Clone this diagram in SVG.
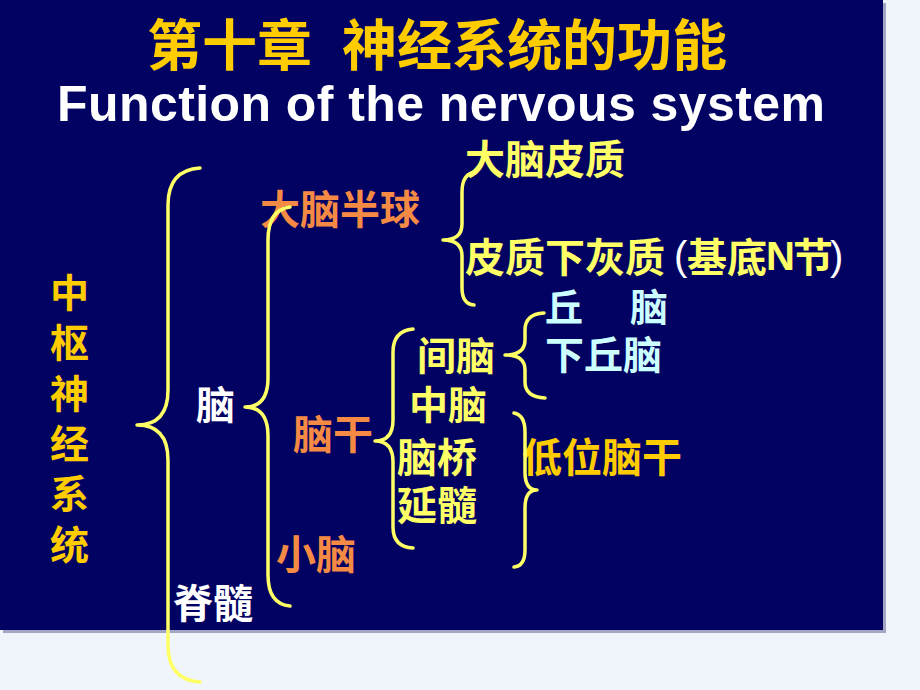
<svg xmlns="http://www.w3.org/2000/svg" width="920" height="690" viewBox="0 0 920 690">
<style>
.cjk{font-family:"Noto Sans CJK SC","Noto Sans CJK TC",sans-serif;font-weight:bold;}
.lat{font-family:"Liberation Sans",Arial,sans-serif;font-weight:bold;}
.paren{font-family:"Liberation Sans",Arial,sans-serif;font-weight:normal;fill:#ffffff;}
.gold{fill:#ffcc00;}
.yel{fill:#ffff66;}
.org{fill:#f58a45;}
.cyan{fill:#ccffff;}
.wht{fill:#ffffff;}
.brace{fill:none;stroke:#ffff66;stroke-width:3.5;stroke-linecap:round;stroke-linejoin:round;}
</style>
<rect x="0" y="0" width="920" height="690" fill="#eff5fa"/>
<rect x="3" y="3" width="883" height="630" fill="#a4a4c4"/>
<rect x="0" y="0" width="883" height="630" fill="#020262"/>

<g id="title">
<text class="cjk gold" x="147" y="65" font-size="55">第十章</text>
<text class="cjk gold" x="342" y="65" font-size="55">神经系统的功能</text>
</g>
<g id="subtitle">
<text class="lat wht" x="57" y="121" font-size="50" textLength="768" lengthAdjust="spacing">Function of the nervous system</text>
</g>

<g id="cns">
<text class="cjk gold" font-size="39" x="50" y="307">中</text>
<text class="cjk gold" font-size="39" x="50" y="357">枢</text>
<text class="cjk gold" font-size="39" x="50" y="408">神</text>
<text class="cjk gold" font-size="39" x="50" y="458">经</text>
<text class="cjk gold" font-size="39" x="50" y="508">系</text>
<text class="cjk gold" font-size="39" x="50" y="559">统</text>
</g>

<g id="brain"><text class="cjk wht" font-size="39" x="196" y="419">脑</text></g>
<g id="spinal"><text class="cjk wht" font-size="40" x="173" y="618">脊髓</text></g>

<g id="cerebrum"><text class="cjk org" font-size="40" x="260" y="224">大脑半球</text></g>
<g id="brainstem"><text class="cjk org" font-size="40" x="293" y="449">脑干</text></g>
<g id="cerebellum"><text class="cjk org" font-size="40" x="276" y="569">小脑</text></g>

<g id="cortex"><text class="cjk yel" font-size="40" x="465" y="174">大脑皮质</text></g>
<g id="subcortical">
<text class="cjk yel" font-size="40" x="465" y="272">皮质下灰质</text>
<text class="paren" font-size="40" x="674" y="270">(</text>
<text class="cjk yel" font-size="40" x="687" y="272">基底</text>
<text class="lat yel" font-size="40" x="766" y="270">N</text>
<text class="cjk yel" font-size="40" x="793" y="272">节</text>
<text class="paren" font-size="40" x="830" y="270">)</text>
</g>

<g id="thalamus"><text class="cjk cyan" font-size="38" x="545" y="321">丘</text><text class="cjk cyan" font-size="38" x="630" y="321">脑</text></g>
<g id="hypothalamus"><text class="cjk cyan" font-size="39" x="545" y="369">下丘脑</text></g>

<g id="diencephalon"><text class="cjk yel" font-size="39" x="417" y="370">间脑</text></g>
<g id="midbrain"><text class="cjk yel" font-size="39" x="409" y="419">中脑</text></g>
<g id="pons"><text class="cjk yel" font-size="40" x="397" y="472">脑桥</text></g>
<g id="medulla"><text class="cjk yel" font-size="40" x="397" y="520">延髓</text></g>

<g id="lowbrainstem"><text class="cjk gold" font-size="40" x="522" y="472">低位脑干</text></g>

<g id="connectors">
<path class="brace" d="M200 168 Q168 170 168 205 L168 390 Q168 425 137 425 Q168 425 168 460 L168 645 Q168 680 200 682"/>
<path class="brace" d="M290 207 Q268 210 268 240 L268 378 Q268 407 245 407 Q268 407 268 436 L268 575 Q268 604 290 606"/>
<path class="brace" d="M475 172 Q462 174 462 192 L462 224 Q462 240 443 240 Q462 240 462 256 L462 288 Q462 304 474 305"/>
<path class="brace" d="M544 313 Q525 314 525 330 L525 340 Q525 355 505 355 Q525 355 525 370 L525 382 Q525 397 545 398"/>
<path class="brace" d="M413 329 Q393 331 393 352 L393 420 Q393 441 375 441 Q393 441 393 462 L393 527 Q393 547 413 548"/>
<path class="brace" d="M514 413 Q525 415 525 432 L525 472 Q525 490 537 490 Q525 490 525 508 L525 550 Q525 566 514 567"/>
</g>
</svg>
